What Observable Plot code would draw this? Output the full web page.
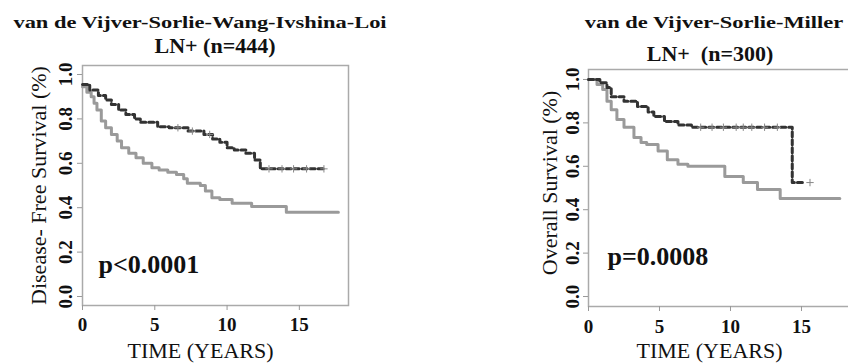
<!DOCTYPE html>
<html><head><meta charset="utf-8">
<script src="https://cdn.jsdelivr.net/npm/d3@7"></script>
<script src="https://cdn.jsdelivr.net/npm/@observablehq/plot@0.6"></script>
<style>
html,body{margin:0;padding:0;background:#fff;overflow:hidden}
#wrap{position:relative;width:848px;height:364px;overflow:hidden;font-family:"Liberation Serif",serif}
.t{position:absolute;white-space:pre;text-align:center;font-weight:bold;line-height:1;width:600px;color:#111}
#wrap svg{position:absolute;top:0}
</style></head><body><div id="wrap"></div>
<script>
// ---- data ----
const xTicks = [0, 5, 10, 15];
const yTicks = [0, 0.2, 0.4, 0.6, 0.8, 1.0];

const leftTitle = ["van de Vijver-Sorlie-Wang-Ivshina-Loi", "LN+ (n=444)"];
const leftYLabel = "Disease- Free Survival (%)";
const leftP = "p<0.0001";
const rightTitle = ["van de Vijver-Sorlie-Miller", "LN+  (n=300)"];
const rightYLabel = "Overall Survival (%)";
const rightP = "p=0.0008";
const xLabel = "TIME (YEARS)";

// left panel: upper (dashed) group
const leftDashT = [0, 0.5, 1.1, 1.6, 2.0, 2.5, 3.0, 3.6, 4.0, 5.2, 6.0, 7.3, 8.4, 9.0, 9.5, 10.0, 10.5, 11.3, 11.9, 12.3, 16.7];
const leftDashS = [0.955, 0.93, 0.905, 0.885, 0.865, 0.84, 0.82, 0.80, 0.785, 0.765, 0.76, 0.745, 0.73, 0.71, 0.695, 0.67, 0.66, 0.645, 0.615, 0.575, 0.575];
const leftDashCensor = [6.6, 7.6, 8.8, 12.9, 13.8, 14.6, 15.5, 16.7];
// left panel: lower (solid) group
const leftSolidT = [0, 0.3, 0.6, 0.8, 1.0, 1.3, 1.6, 2.0, 2.4, 2.7, 3.2, 3.7, 4.2, 4.8, 5.3, 5.9, 6.5, 7.0, 7.25, 8.15, 8.5, 8.95, 9.5, 10.35, 11.7, 14.1, 17.7];
const leftSolidS = [0.945, 0.92, 0.90, 0.87, 0.84, 0.79, 0.76, 0.73, 0.70, 0.67, 0.645, 0.625, 0.60, 0.58, 0.57, 0.56, 0.55, 0.53, 0.51, 0.50, 0.475, 0.445, 0.437, 0.42, 0.405, 0.38, 0.38];

// right panel: upper (dashed) group
const rightDashT = [0, 0.8, 1.3, 1.6, 2.5, 3.45, 4.2, 4.6, 5.35, 6.3, 7.25, 14.35, 15.1];
const rightDashS = [1.0, 0.985, 0.963, 0.92, 0.90, 0.875, 0.85, 0.83, 0.806, 0.79, 0.78, 0.525, 0.525];
const rightDashCensor = [7.9, 8.7, 9.5, 10.4, 10.9, 11.5, 12.4, 13.3, 15.6];
// right panel: lower (solid) group
const rightSolidT = [0, 0.6, 1.0, 1.3, 1.6, 2.0, 2.5, 3.2, 3.7, 4.1, 4.9, 5.55, 6.3, 7.0, 9.6, 10.9, 11.9, 13.5, 17.7];
const rightSolidS = [1.0, 0.977, 0.954, 0.90, 0.86, 0.816, 0.78, 0.733, 0.71, 0.70, 0.67, 0.63, 0.61, 0.60, 0.553, 0.525, 0.493, 0.452, 0.452];

// ---- helpers ----
const rows = (T, S) => T.map((t, i) => ({t, s: S[i]}));
const stepAt = (T, S, t) => { let s = S[0]; for (let i = 0; i < T.length; i++) if (T[i] <= t) s = S[i]; return s; };
const censorRows = (C, T, S) => C.map(t => ({t, s: stepAt(T, S, t)}));

const FONT = "Liberation Serif";
const wrap = document.getElementById("wrap");

function panel(o) {
  const svg = Plot.plot({
    width: o.width, height: 364,
    marginLeft: o.ml, marginRight: o.mr, marginTop: o.mt, marginBottom: o.mb,
    x: {domain: o.xdom, label: null},
    y: {domain: o.ydom, label: null},
    style: {fontFamily: FONT, background: "transparent", overflow: "visible", color: "#111"},
    marks: [
      Plot.frame({stroke: "#aaa", strokeWidth: 1.5}),
      Plot.axisY(yTicks, {tickSize: 5, stroke: "#999", tickFormat: () => "", label: null}),
      Plot.axisX(xTicks, {tickSize: 5, stroke: "#999", tickFormat: () => "", label: null}),
      Plot.text(yTicks, {y: d => d, text: d => d.toFixed(1), frameAnchor: "left", dx: o.ytdx, rotate: -90,
        textAnchor: "middle", lineAnchor: "bottom", fontSize: 19, fontWeight: "bold"}),
      Plot.text(xTicks, {x: d => d, text: d => String(d), frameAnchor: "bottom", dy: o.xtdy,
        textAnchor: "middle", lineAnchor: "bottom", fontSize: 19, fontWeight: "bold"}),
      Plot.text([o.ylabel], {frameAnchor: "left", dx: o.yldx, dy: o.yldy, rotate: -90,
        textAnchor: "middle", lineAnchor: "bottom", fontSize: 22}),
      Plot.text([xLabel], {frameAnchor: "bottom-left", dx: o.xldx, dy: o.xldy,
        textAnchor: "middle", lineAnchor: "bottom", fontSize: 22}),
      Plot.text([o.p], {frameAnchor: "bottom-left", dx: o.pdx, dy: o.pdy,
        textAnchor: "start", lineAnchor: "bottom", fontSize: 26, fontWeight: "bold"}),
      Plot.line(rows(o.solidT, o.solidS), {x: "t", y: "s", curve: "step-after", stroke: "#9a9a9a", strokeWidth: 3}),
      Plot.line(rows(o.dashT, o.dashS), {x: "t", y: "s", curve: "step-after", stroke: "#333", strokeWidth: 3, strokeDasharray: "5,3"}),
      Plot.dot(censorRows(o.censor, o.dashT, o.dashS), {x: "t", y: "s", symbol: "plus", r: 2.5, stroke: "#888", strokeWidth: 1})
    ]
  });
  svg.style.left = o.left + "px";
  wrap.appendChild(svg);
}

panel({left: 0, width: 424, ml: 82, mr: 76, mt: 65, mb: 59,
  xdom: [0, 18.4], ydom: [-0.0405, 1.0405],
  ytdx: -11, xtdy: 25, ylabel: leftYLabel, yldx: -37, yldy: 0,
  xldx: 118, xldy: 52, p: leftP, pdx: 16, pdy: -33,
  solidT: leftSolidT, solidS: leftSolidS, dashT: leftDashT, dashS: leftDashS, censor: leftDashCensor});

panel({left: 424, width: 446, ml: 164, mr: 0, mt: 69, mb: 58,
  xdom: [0, 19.86], ydom: [-0.046, 1.046],
  ytdx: -10, xtdy: 26, ylabel: rightYLabel, yldx: -32, yldy: -5,
  xldx: 121, xldy: 51, p: rightP, pdx: 19, pdy: -42,
  solidT: rightSolidT, solidS: rightSolidS, dashT: rightDashT, dashS: rightDashS, censor: rightDashCensor});

// titles (HTML, above the plots)
function title(text, cx, baseline, size, sx) {
  const d = document.createElement("div");
  d.className = "t";
  d.textContent = text;
  d.style.fontSize = size + "px";
  d.style.left = (cx - 300) + "px";
  d.style.top = (baseline - 0.8375 * size) + "px";
  d.style.transform = `scaleX(${sx})`;
  wrap.appendChild(d);
}
title(leftTitle[0], 200, 28, 17, 1.32);
title(leftTitle[1], 215, 53, 22, 1);
title(rightTitle[0], 714, 28, 17, 1.32);
title(rightTitle[1], 710, 61, 22, 1);
</script></body></html>
